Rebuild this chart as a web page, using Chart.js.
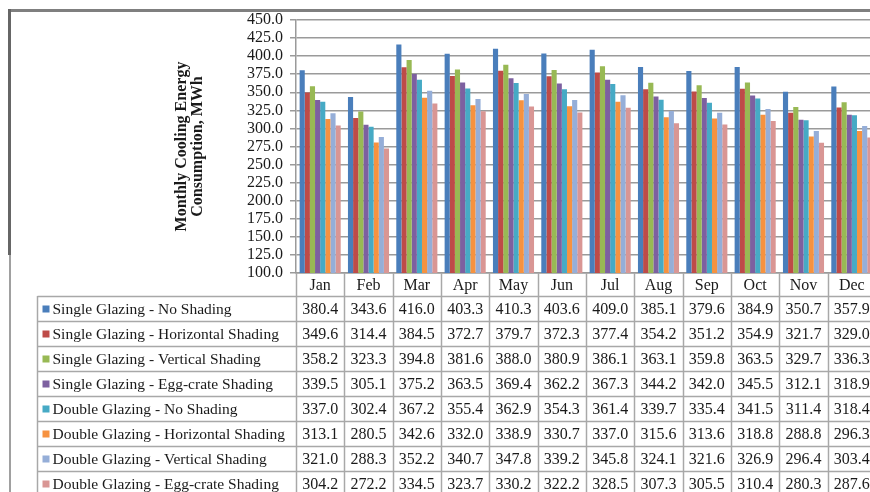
<!DOCTYPE html>
<html>
<head>
<meta charset="utf-8">
<script src="https://cdn.jsdelivr.net/npm/chart.js@4/dist/chart.umd.min.js"></script>
<style>
html,body{margin:0;padding:0;background:#fff;overflow:hidden;width:870px;height:492px;}
canvas{display:block;}
</style>
</head>
<body>
<canvas id="c" width="880" height="492"></canvas>
<script>
const months = ['Jan','Feb','Mar','Apr','May','Jun','Jul','Aug','Sep','Oct','Nov','Dec'];
const seriesNames = [
  'Single Glazing - No Shading',
  'Single Glazing - Horizontal Shading',
  'Single Glazing - Vertical Shading',
  'Single Glazing - Egg-crate Shading',
  'Double Glazing - No Shading',
  'Double Glazing - Horizontal Shading',
  'Double Glazing - Vertical Shading',
  'Double Glazing - Egg-crate Shading'
];
const singleNoShading       = [380.4,343.6,416.0,403.3,410.3,403.6,409.0,385.1,379.6,384.9,350.7,357.9];
const singleHorizontal      = [349.6,314.4,384.5,372.7,379.7,372.3,377.4,354.2,351.2,354.9,321.7,329.0];
const singleVertical        = [358.2,323.3,394.8,381.6,388.0,380.9,386.1,363.1,359.8,363.5,329.7,336.3];
const singleEggCrate        = [339.5,305.1,375.2,363.5,369.4,362.2,367.3,344.2,342.0,345.5,312.1,318.9];
const doubleNoShading       = [337.0,302.4,367.2,355.4,362.9,354.3,361.4,339.7,335.4,341.5,311.4,318.4];
const doubleHorizontal      = [313.1,280.5,342.6,332.0,338.9,330.7,337.0,315.6,313.6,318.8,288.8,296.3];
const doubleVertical        = [321.0,288.3,352.2,340.7,347.8,339.2,345.8,324.1,321.6,326.9,296.4,303.4];
const doubleEggCrate        = [304.2,272.2,334.5,323.7,330.2,322.2,328.5,307.3,305.5,310.4,280.3,287.6];
const yTitle = ['Monthly Cooling Energy','Consumption, MWh'];
const yMin = 100, yMax = 450, yStep = 25;

const seriesValues = [singleNoShading,singleHorizontal,singleVertical,singleEggCrate,
                      doubleNoShading,doubleHorizontal,doubleVertical,doubleEggCrate];
const colors = ['#4A7EBB','#BE4B48','#98B954','#7D60A0','#46AAC5','#F69240','#95AED8','#D99694'];

const FONT = "'Liberation Serif','Times New Roman',serif";
const GRID = '#9a9a9a';
const TABLE_LINE = '#a8a8a8';

const tablePlugin = {
  id: 'dataTable',
  afterDraw(chart) {
    const ctx = chart.ctx;
    const x = chart.scales.x;
    const area = chart.chartArea;
    const n = months.length;
    const w = (x.right - x.left) / n;
    const headerTop = area.bottom;
    const tableTop = area.bottom + 23;
    const rowH = 25;
    const leftEdge = 37.5;
    ctx.save();
    // outer frame (top rule and left rule)
    ctx.fillStyle = '#7f7f7f';
    ctx.fillRect(8, 9, 880, 3);
    ctx.fillStyle = '#666666';
    ctx.fillRect(8, 9, 3, 246);
    ctx.fillStyle = '#a0a0a0';
    ctx.fillRect(9, 255, 2, 240);

    ctx.strokeStyle = TABLE_LINE;
    ctx.lineWidth = 1.5;
    for (let r = 0; r <= seriesNames.length; r++) {
      const y = Math.round(tableTop + r * rowH) + 0.5;
      ctx.beginPath(); ctx.moveTo(leftEdge, y); ctx.lineTo(chart.width, y); ctx.stroke();
    }
    ctx.beginPath(); ctx.moveTo(leftEdge, tableTop); ctx.lineTo(leftEdge, chart.height); ctx.stroke();
    for (let i = 0; i <= n; i++) {
      const xx = Math.round(x.left + i * w) + 0.5;
      ctx.beginPath(); ctx.moveTo(xx, headerTop); ctx.lineTo(xx, chart.height); ctx.stroke();
    }
    ctx.textBaseline = 'middle';
    seriesNames.forEach((name, r) => {
      const cy = tableTop + r * rowH + rowH / 2 + 1;
      ctx.fillStyle = colors[r];
      ctx.fillRect(leftEdge + 5, cy - 4, 7, 7);
      ctx.fillStyle = '#1a1a1a';
      ctx.textAlign = 'left';
      ctx.font = '15.5px ' + FONT;
      ctx.fillText(name, leftEdge + 15, cy);
      ctx.textAlign = 'center';
      ctx.font = '16px ' + FONT;
      seriesValues[r].forEach((v, i) => {
        ctx.fillText(v.toFixed(1), x.getPixelForValue(i), cy);
      });
    });
    ctx.restore();
  }
};

new Chart(document.getElementById('c'), {
  type: 'bar',
  data: {
    labels: months,
    datasets: seriesNames.map((name, i) => ({
      label: name,
      data: seriesValues[i],
      backgroundColor: colors[i],
      borderWidth: 0,
      barPercentage: 1.0,
      categoryPercentage: 0.85
    }))
  },
  options: {
    responsive: false,
    animation: false,
    layout: { padding: { left: 173, right: 4, top: 20, bottom: 196 } },
    plugins: { legend: { display: false }, tooltip: { enabled: false } },
    scales: {
      x: {
        offset: true,
        grid: { display: false, drawTicks: false },
        border: { display: true, color: GRID, width: 1.5 },
        ticks: { color: '#1a1a1a', font: { family: FONT, size: 16 }, padding: 3, maxRotation: 0 },
        afterFit(s) { s.height = 23; }
      },
      y: {
        min: yMin, max: yMax,
        grid: { color: GRID, lineWidth: 1.5, tickLength: 6, tickColor: GRID },
        border: { display: true, color: GRID, width: 1.5 },
        ticks: {
          stepSize: yStep,
          autoSkip: false,
          color: '#1a1a1a',
          padding: 7,
          font: { family: FONT, size: 16, lineHeight: 1.0 },
          callback: v => Number(v).toFixed(1)
        },
        title: {
          display: true,
          text: yTitle,
          color: '#1a1a1a',
          padding: 0,
          font: { family: FONT, size: 16, weight: 'bold', lineHeight: 1.05 }
        },
        afterFit(s) { s.width = 296 - 173; }
      }
    }
  },
  plugins: [tablePlugin]
});
</script>
</body>
</html>
